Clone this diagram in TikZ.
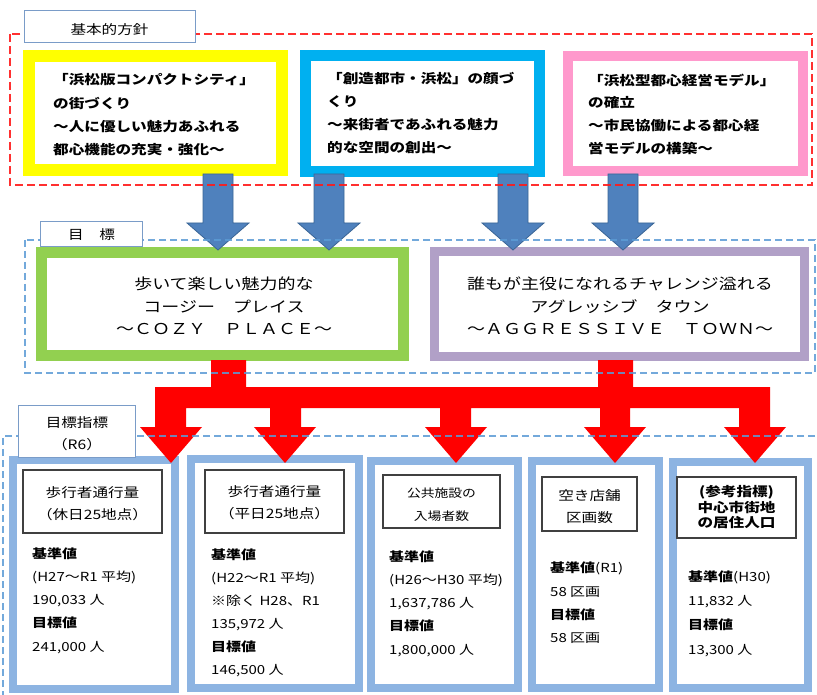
\documentclass[tikz,border=0pt]{standalone}
\usepackage{fontspec}
\newfontfamily\jp[FakeStretch=1.2]{Noto Sans CJK JP}
\definecolor{yellowb}{HTML}{FFFF00}
\definecolor{cyanb}{HTML}{00B0F0}
\definecolor{pinkb}{HTML}{FF99CC}
\definecolor{greenb}{HTML}{92D050}
\definecolor{purpleb}{HTML}{B1A0C7}
\definecolor{arrowblue}{HTML}{4F81BD}
\definecolor{arrowedge}{HTML}{3A6596}
\definecolor{frameblue}{HTML}{5B9BD5}
\definecolor{indblue}{HTML}{8DB4E2}
\definecolor{labeledge}{HTML}{7A9CC8}
\definecolor{framered}{HTML}{FF1A1A}
\tikzset{
  colbox/.style={rectangle, draw, fill=white, inner sep=0pt, line width=#1},
  titlebox/.style={rectangle, draw=black!75, fill=white, line width=1.1pt, inner sep=0pt},
  labelbox/.style={rectangle, draw=labeledge, fill=white, line width=1pt, inner sep=0pt},
  toptext/.style={anchor=west, align=left, inner sep=0pt, font=\jp\bfseries\fontsize{13}{23.3}\selectfont},
  midtext/.style={align=center, inner sep=0pt, font=\jp\fontsize{15}{22.5}\selectfont},
  ttltext/.style={align=center, inner sep=0pt, font=\jp\fontsize{13}{22}\selectfont},
  bodytext/.style={anchor=west, align=left, inner sep=0pt, font=\jp\fontsize{12.5}{23.3}\selectfont},
  lbltext/.style={align=center, inner sep=0pt, font=\jp\fontsize{13}{22}\selectfont},
  redframe/.style={draw=framered, line width=2.2pt, dash pattern=on 8pt off 4pt},
  blueframe/.style={draw=frameblue, line width=1.8pt, dash pattern=on 7pt off 4pt},
  bluearrow/.style={fill=arrowblue, draw=arrowedge, line width=0.8pt},
}
\begin{document}
\begin{tikzpicture}[x=1pt,y=-1pt]
\useasboundingbox[fill=white] (0,0) rectangle (817,695);

% ---------- top policy boxes ----------
\node[colbox=12pt, draw=yellowb, minimum width=253pt, minimum height=114pt] (p1) at (155.5,113) {};
\node[colbox=11pt, draw=cyanb, minimum width=234pt, minimum height=116pt] (p2) at (422.5,113.5) {};
\node[colbox=10pt, draw=pinkb, minimum width=235pt, minimum height=115pt] (p3) at (685.5,113.5) {};
\node[toptext] (p1t) at (53,115) {「浜松版コンパクトシティ」\\の街づくり\\～人に優しい魅力あふれる\\都心機能の充実・強化～};
\node[toptext] (p2t) at (327,113) {「創造都市・浜松」の顔づ\\くり\\～来街者であふれる魅力\\的な空間の創出～};
\node[toptext, font=\jp\bfseries\fontsize{13}{22.7}\selectfont] (p3t) at (588,114) {「浜松型都心経営モデル」\\の確立\\～市民協働による都心経\\営モデルの構築～};

% ---------- goal boxes ----------
\node[colbox=11pt, draw=greenb, minimum width=362pt, minimum height=103pt] (g1) at (222.5,304) {};
\node[colbox=9pt, draw=purpleb, minimum width=370pt, minimum height=105pt] (g2) at (619.5,304) {};
\node[midtext] (g1t) at (224,306) {歩いて楽しい魅力的な\\コージー　プレイス\\～ＣＯＺＹ　ＰＬＡＣＥ～};
\node[midtext] (g2t) at (620,306) {誰もが主役になれるチャレンジ溢れる\\アグレッシブ　タウン\\～ＡＧＧＲＥＳＳＩＶＥ　ＴＯＷＮ～};

% ---------- indicator boxes ----------
\node[colbox=8pt, draw=indblue, minimum width=162pt, minimum height=229pt] (b1) at (94,574.5) {};
\node[colbox=8pt, draw=indblue, minimum width=168pt, minimum height=229pt] (b2) at (275,573.5) {};
\node[colbox=8pt, draw=indblue, minimum width=147pt, minimum height=227pt] (b3) at (444.5,574.5) {};
\node[colbox=8pt, draw=indblue, minimum width=127pt, minimum height=227pt] (b4) at (595.5,574.5) {};
\node[colbox=8pt, draw=indblue, minimum width=135pt, minimum height=226pt] (b5) at (740.5,575) {};

\node[titlebox, minimum width=139pt, minimum height=63pt] (t1) at (92.5,501.5) {};
\node[titlebox, minimum width=139pt, minimum height=63pt] (t2) at (274.5,501.5) {};
\node[titlebox, minimum width=117pt, minimum height=53pt] (t3) at (441.5,501.5) {};
\node[titlebox, minimum width=95pt, minimum height=54pt] (t4) at (589.5,504) {};
\node[titlebox, minimum width=119pt, minimum height=61pt] (t5) at (736.5,507.5) {};

\node[ttltext] (t1t) at (92.5,503.5) {歩行者通行量\\（休日25地点）};
\node[ttltext] (t2t) at (274.5,502.5) {歩行者通行量\\（平日25地点）};
\node[ttltext, font=\jp\fontsize{11.5}{23}\selectfont] (t3t) at (441.5,504.5) {公共施設の\\入場者数};
\node[ttltext] (t4t) at (589.5,506.5) {空き店舗\\区画数};
\node[ttltext, font=\jp\bfseries\fontsize{13}{15.5}\selectfont] (t5t) at (736.5,507.5) {(参考指標)\\中心市街地\\の居住人口};

\node[bodytext] (b1t) at (32,600.5) {{\bfseries 基準値}\\(H27～R1 平均)\\190,033 人\\{\bfseries 目標値}\\241,000 人};
\node[bodytext, font=\jp\fontsize{12.5}{23}\selectfont] (b2t) at (211,612.5) {{\bfseries 基準値}\\(H22～R1 平均)\\※除く H28、R1\\135,972 人\\{\bfseries 目標値}\\146,500 人};
\node[bodytext] (b3t) at (389,603.5) {{\bfseries 基準値}\\(H26～H30 平均)\\1,637,786 人\\{\bfseries 目標値}\\1,800,000 人};
\node[bodytext] (b4t) at (550,603) {{\bfseries 基準値}(R1)\\58 区画\\{\bfseries 目標値}\\58 区画};
\node[bodytext, font=\jp\fontsize{12.5}{24.3}\selectfont] (b5t) at (688,613.5) {{\bfseries 基準値}(H30)\\11,832 人\\{\bfseries 目標値}\\13,300 人};

% ---------- blue block arrows ----------
\foreach \cx in {218,329,513,623} {
  \filldraw[bluearrow] (\cx-15,174) -- (\cx+15,174) -- (\cx+15,223) -- (\cx+31,223)
    -- (\cx,250) -- (\cx-31,223) -- (\cx-15,223) -- cycle;
}

% ---------- red branching arrow ----------
\fill[red] (211,360) -- (211,387) -- (155,387) -- (155,427) -- (140,427) -- (171,463)
  -- (202,427) -- (186,427) -- (186,408) -- (270,408) -- (270,427) -- (254,427)
  -- (285,463) -- (316,427) -- (301,427) -- (301,408) -- (440,408) -- (440,427)
  -- (425,427) -- (456,463) -- (487,427) -- (471,427) -- (471,408) -- (600,408)
  -- (600,427) -- (584,427) -- (615,463) -- (646,427) -- (630,427) -- (630,408)
  -- (739,408) -- (739,427) -- (724,427) -- (755,463) -- (786,427) -- (770,427)
  -- (770,387) -- (633,387) -- (633,360) -- (598,360) -- (598,387) -- (246,387)
  -- (246,360) -- cycle;

% ---------- dashed frames ----------
\draw[redframe, opacity=0.9] (10,34) rectangle (812,185);
\draw[blueframe, opacity=0.85] (25,240) rectangle (815,373);
\draw[blueframe, opacity=0.85] (815,436) -- (3,436) -- (3,700);

% ---------- section labels ----------
\node[labelbox, minimum width=171pt, minimum height=32pt] (l1) at (109.5,27) {};
\node[lbltext] (l1t) at (109.5,29.5) {基本的方針};
\node[labelbox, minimum width=102pt, minimum height=25pt] (l2) at (91,234.5) {};
\node[lbltext] (l2t) at (91.5,235) {目　標};
\node[labelbox, minimum width=117pt, minimum height=52pt] (l3) at (76.5,431) {};
\node[lbltext] (l3t) at (77,434) {目標指標\\（R6）};
\end{tikzpicture}
\end{document}
